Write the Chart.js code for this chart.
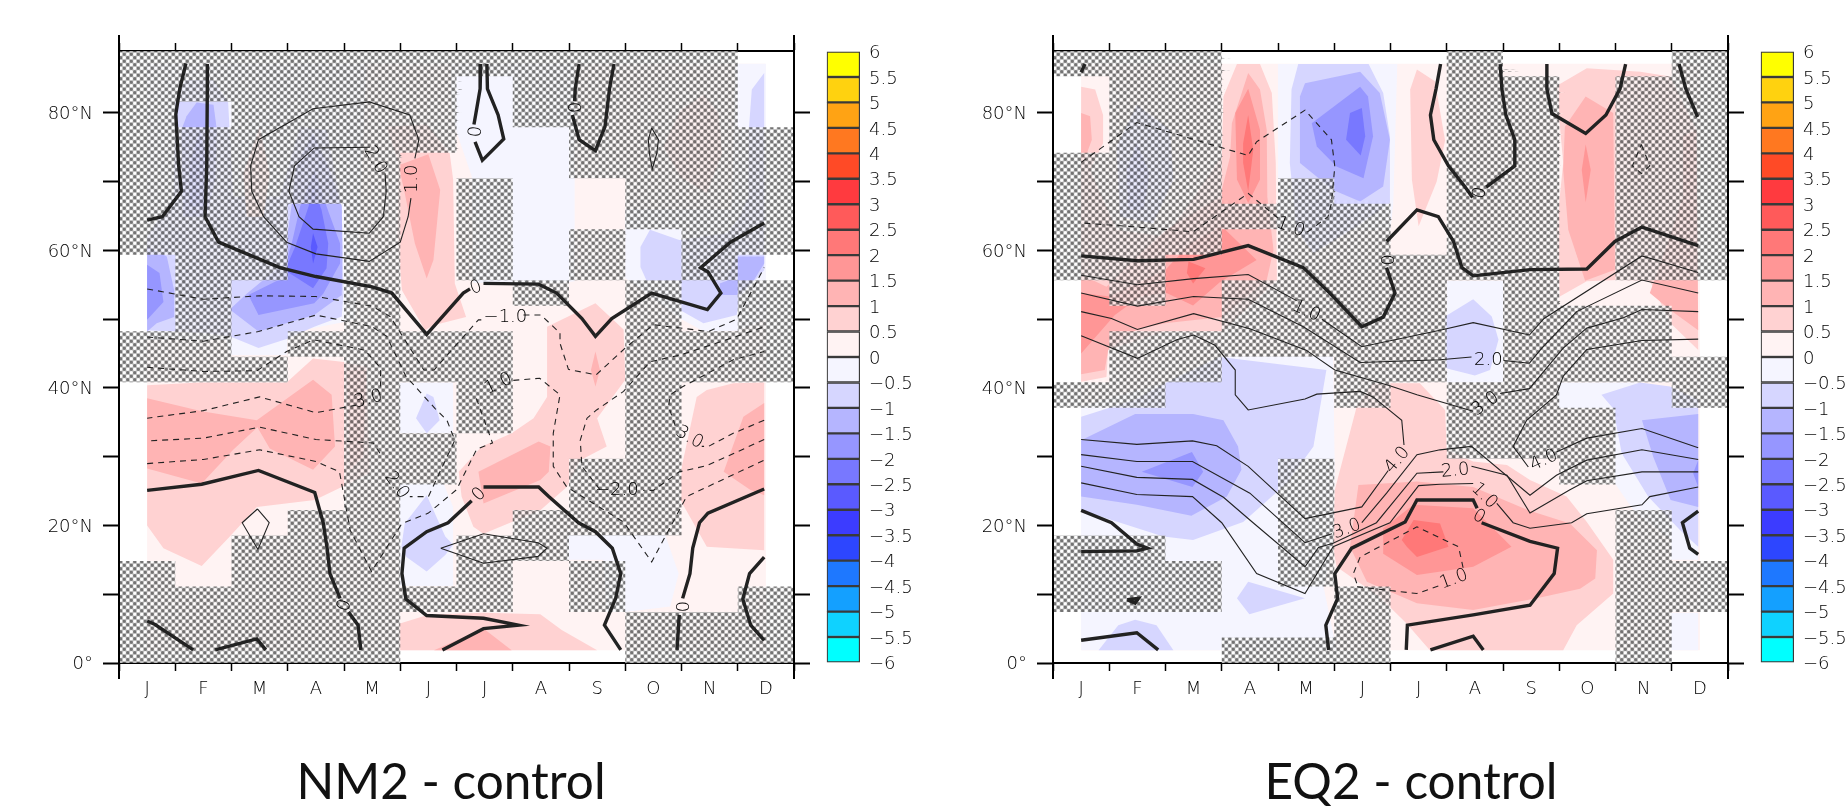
<!DOCTYPE html>
<html><head><meta charset="utf-8">
<title>NM2 and EQ2 minus control</title>
<script src="https://cdn.jsdelivr.net/npm/chart.js@4/dist/chart.umd.js"></script>
<style>
html,body{margin:0;padding:0;background:#fff;width:1848px;height:809px;overflow:hidden}
canvas{position:absolute;top:0}
.ttl{position:absolute;top:750px;width:500px;text-align:center;font:49.5px Lato,sans-serif;color:#111;line-height:60px}
</style></head><body>
<canvas id="p1" width="810" height="809" style="left:0"></canvas>
<canvas id="b1" width="114" height="809" style="left:820px"></canvas>
<canvas id="p2" width="810" height="809" style="left:934px"></canvas>
<canvas id="b2" width="94" height="809" style="left:1754px"></canvas>
<div class="ttl" style="left:201px">NM2 - control</div>
<div class="ttl" style="left:1161px">EQ2 - control</div>
<script>
const monthLabels=['J','F','M','A','M','J','J','A','S','O','N','D'];
const latCenters=[87.16,83.48,79.78,76.07,72.36,68.65,64.94,61.23,57.52,53.81,50.10,46.39,42.68,38.97,35.26,31.54,27.83,24.12,20.41,16.70,12.99,9.28,5.57,1.86];
const colorLevels=[6,5.5,5,4.5,4,3.5,3,2.5,2,1.5,1,0.5,0,-0.5,-1,-1.5,-2,-2.5,-3,-3.5,-4,-4.5,-5,-5.5,-6];
const bandColors=['#ffff00','#ffd20f','#ffa314','#ff7820','#ff4a26','#ff3a3f','#ff5a5a','#ff7878','#ff9696','#ffb4b4','#ffd2d2','#fff3f3','#f5f5ff','#d6d6ff','#b5b5ff','#9696ff','#7878ff','#5a5aff','#3c3cff','#2d46ff','#1e78ff','#14a0ff','#0fd2ff','#00ffff'];

// significance mask: one string per month, one character per latitude row from north to south
const nm2Hatch=['########...##.......####','##.##########........###','#########...#......#####','######.....#......######','########################','####.......##..##....#..','#....####..####....###..','###......#........##....','#####..##.......###.##..','#######..##########...##','#########..##.........##','...#####.####........###'];
const eq2Hatch=['#...#####....#.....###..','##########.###.....###..','########...##.......##..','......#..###...........#','.....#######....#####..#','......########.......###','........#####...........','#########....###........','.###############........','..........###.###.......','.########.###.....######','#########...##......##..'];

// shaded bands: [lower bound of band, [[month, latitude], ...]]
const nm2Fills=[
[0,[[.5,1.86],[11.5,1.86],[11.5,87.16],[.5,87.16]]],
[-.5,[[5.9,87.16],[8.1,87.16],[8.1,55.5],[7.9,55.3],[6.3,55.3],[6.27,70.8],[5.97,78],[5.9,82]]],
[-.5,[[10.95,87.16],[11.5,87.16],[11.5,50],[11,48.3],[10.4,48.2],[10,50],[9,56],[9,66],[10.9,66]]],
[-.5,[[.5,87.16],[4.4,87.16],[4.2,50],[3.96,49.5],[3,48],[2.98,44.8],[1.97,44.8],[1.9,47],[.5,47]]],
[-.5,[[7.96,18.6],[9.71,18.6],[9.95,13],[9.8,8.2],[9,7.4],[8.67,7.4],[8.61,15],[7.96,15]]],
[-.5,[[4.98,26.1],[5.77,26.1],[5.94,22.7],[5.94,11.2],[4.98,11.2]]],
[-.5,[[4.98,40.8],[5.94,40.8],[5.94,33.4],[4.98,33.4]]],
[-1,[[11.47,85.8],[11.25,83.4],[11.2,77.9],[11.19,67.8],[11.04,64.9],[10.81,62.5],[9.96,61.5],[9.44,63],[9.27,60.5],[9.27,57.6],[9.38,55.6],[9.96,55.6],[9.98,51.3],[10.39,49.4],[10.98,50.6],[11.04,53.3],[11.47,57.1]]],
[-1,[[1.17,84.8],[1.68,84.8],[1.94,81.5],[2.03,67.8],[2.86,67.8],[3.22,78],[3.69,77.5],[3.96,66.4],[3.99,53.8],[3.96,50.4],[3.47,48.9],[2.98,47.1],[2.48,45.8],[1.97,47.5],[1.5,48],[.5,48.4],[.5,62],[.97,67.8],[1,81.5]]],
[-1,[[5.47,39.2],[5.59,38.7],[5.7,35.3],[5.47,33.4],[5.28,35.6]]],
[-1,[[5.47,24.4],[5.8,18.4],[5.94,17.2],[5.8,15.7],[5.47,13.3],[5.11,15.4],[5.02,16.9],[5.08,20.3]]],
[-1.5,[[11.47,59.1],[10.95,59.1],[10.81,55.6],[10.68,55.2],[10.69,53.5],[10.98,53.5],[11.28,55.6],[11.47,58.1]]],
[-1.5,[[.5,60.6],[.85,59.1],[.98,54.2],[.98,50.3],[.67,49.4],[.5,48.2]]],
[-1.5,[[1.38,81.5],[1.68,81.2],[1.74,77.5],[1.71,70.3],[1.56,64.9],[1.14,64.9],[1.11,77.5],[1.2,79.5]]],
[-1.5,[[3.45,77],[3.75,71.7],[3.96,66.4],[3.97,60.5],[3.96,53.5],[3.47,50.6],[2.48,48.2],[1.97,51.4],[2.27,53.7],[2.92,58.1],[2.99,62],[3.07,66.6],[3.16,72.7]]],
[-2,[[.5,57.9],[.72,56.7],[.79,52.5],[.5,49.9]]],
[-2,[[1.44,77.5],[1.56,72.7],[1.53,66.4],[1.26,66.4],[1.26,72.7]]],
[-2,[[3.48,71.7],[3.69,66.4],[3.93,61],[3.93,58.1],[3.63,53.7],[3.47,52.3],[2.48,50.6],[2.3,53.5],[2.89,55.9],[3.07,61],[3.22,66.4]]],
[-2.5,[[3.45,69.3],[3.6,65.9],[3.72,61],[3.69,57.4],[3.45,54.5],[2.95,57.1],[3.13,60.5],[3.37,66.4]]],
[-3,[[3.45,62.5],[3.53,60.5],[3.45,58.1],[3.41,60.5]]],
[.5,[[2.5,78],[2.68,71.2],[2.57,64.9],[2.27,64.9],[2.21,71.2]]],
[.5,[[4.76,78],[5.47,78.3],[5.88,74.1],[5.94,70.3],[5.97,55.2],[6.17,50.3],[5.59,49.1],[5.44,48.4],[5.03,54.2],[4.95,62],[4.97,72.7]]],
[1,[[4.97,72.4],[5.5,74],[5.71,68.8],[5.59,58.6],[5.47,55.9],[5.26,61],[5.08,68.3]]],
[.5,[[10.39,82.6],[10.66,80],[10.72,74.1],[10.45,68.3],[9.98,70.7],[9.68,75.1],[9.98,80.4]]],
[.5,[[.5,40.4],[1.44,40.8],[2.98,40.8],[3.45,44.3],[3.96,43.8],[4.4,43.1],[4.46,27.6],[3.96,25.6],[3.48,23.7],[2.45,22.7],[1.97,18.4],[1.47,14.1],[.79,16.7],[.5,20]]],
[1,[[.5,38.5],[1.47,36.6],[2.45,35.3],[3.45,41.2],[3.78,39],[3.84,31.5],[3.45,28.1],[2.68,31.2],[2.46,34.3],[2.03,31],[1.47,26.1],[.5,28.3]]],
[1,[[4.05,42.6],[4.4,42.6],[4.34,30],[4.11,28.1]]],
[.5,[[8.47,52.3],[8.97,48.5],[9,41.2],[8.5,35.6],[8.67,31.5],[8.2,29.5],[7.96,25.6],[7.49,22.2],[6.48,18.8],[6.3,19.8],[6.09,24.2],[6.04,27.8],[6.45,31.5],[6.98,33.4],[7.37,35.6],[7.61,38.7],[7.61,48.9]]],
[1,[[6.39,27.8],[7.46,32.2],[7.67,31.5],[7.64,27.8],[7.49,26.6],[6.48,23.2]]],
[1,[[8.47,45.3],[8.55,42.6],[8.47,40.2],[8.39,42.6]]],
[.5,[[11.47,40.8],[10.92,40.7],[10.45,39.7],[10.27,38.7],[9.98,27.6],[9.98,23.7],[10.45,16.9],[11.47,16.4]]],
[1,[[11.47,37.8],[11.1,35.8],[10.75,27.8],[11.22,25.2],[11.47,24.4]]],
[.5,[[4.98,1.86],[4.98,5.7],[5.5,7],[6.48,7.3],[7.49,7.1],[7.87,4.8],[8.5,1.86]]],
[1,[[5.6,1.86],[6.48,5],[6.98,1.86]]]
];
const eq2Fills=[
[0,[[.5,1.86],[11.5,1.86],[11.5,87.16],[.5,87.16]]],
[.5,[[3.27,87.1],[3.68,87.1],[3.89,82.9],[3.96,72.7],[3.98,55.6],[3,48.2],[1.99,48.2],[.98,45.5],[.95,41.6],[.5,40.9],[.5,72.7],[.66,71.7],[1.13,63],[1.99,62],[2.44,66.9],[3,73.7],[3.03,82.4]]],
[1,[[3.47,85.8],[3.68,83.4],[3.8,77.5],[3.81,67.8],[3.92,60.1],[3.8,55.7],[3,50.3],[1.99,49.4],[1.49,48.5],[.98,45.5],[.92,42.6],[.5,42],[.5,56.5],[.95,54.7],[1.43,58.6],[2.02,63],[2.97,67.8],[3.15,73.7],[3.18,78.5]]],
[1.5,[[3.47,83.5],[3.68,77.5],[3.68,70.3],[3.47,66.9],[3.27,70.3],[3.24,80]]],
[2,[[3.47,79.7],[3.56,74.6],[3.47,68.6],[3.38,72.7],[3.38,75.6]]],
[1.5,[[1.99,57.1],[2.44,61],[3,63.5],[3.62,58.6],[2.97,55.4],[2.49,52],[2.02,53.8],[1.55,53.3],[1.1,50.6],[.5,45],[.5,53.8],[1.01,53.3]]],
[2,[[2.41,58.4],[2.71,57.4],[2.49,55.2],[2.38,56.7]]],
[.5,[[.5,83.8],[.75,83.4],[.89,79.7],[.89,75.6],[.66,71.7],[.5,71.7]]],
[1,[[.5,80],[.66,79.5],[.69,76.1],[.54,72.7],[.5,72.7]]],
[-.5,[[4,87.1],[6.12,87.1],[6.05,66.9],[6,63],[4,63]]],
[-1,[[4.36,87.1],[5.61,87.1],[5.87,82.9],[5.99,76.6],[5.99,66.9],[5.4,63.5],[4.63,59.6],[4.33,63],[4.21,72.7],[4.24,83.4]]],
[-1.5,[[4.48,84.3],[5.46,86],[5.81,82.9],[5.99,76.1],[5.87,69.3],[5.46,67.1],[4.98,68.8],[4.39,72.7],[4.39,82.4]]],
[-2,[[4.6,78.5],[5.46,83.8],[5.6,82.4],[5.69,76.6],[5.52,70.5],[5.04,72.2],[4.69,75.1]]],
[-2.5,[[5.28,80],[5.49,80.7],[5.55,76.6],[5.47,73.8],[5.21,76.1]]],
[-1,[[1.49,81.2],[2.08,77.5],[2.14,70.3],[1.78,63.9],[1.19,64.9],[1.13,75.1]]],
[-1.5,[[1.49,75.6],[1.72,71.2],[1.61,65.9],[1.34,65.9],[1.31,71.7]]],
[.5,[[6.47,86.3],[6.79,84.6],[6.97,76],[6.82,70],[6.5,63.5],[6.38,70.3],[6.35,83.4]]],
[.5,[[8.95,83.9],[9.49,86.5],[10.44,86],[10.97,85.3],[11.44,77.5],[11.47,45.5],[10.98,49.4],[10.61,55.6],[10.02,55.7],[9.49,55.5],[9.01,53.3],[8.95,63],[9.07,72.7]]],
[1,[[9.1,78],[9.47,82.4],[9.96,80],[9.99,57.2],[9.46,55.6],[9.16,63],[9.07,71.7]]],
[1,[[11.2,76.6],[11.44,77.5],[11.47,48.4],[10.98,51.3],[10.61,53.8],[10.91,60.6],[11.2,67.8]]],
[1.5,[[9.47,75.4],[9.56,71.7],[9.47,67],[9.4,71.7]]],
[-.5,[[.5,37.3],[1.99,40.8],[2.97,44.6],[4.98,44.6],[5.01,27.6],[4.98,16.9],[4.81,11.1],[5.04,1.86],[.5,1.86]]],
[-1,[[.5,35.8],[1.46,38.3],[1.99,40.7],[2.97,44.5],[4.86,42.6],[4.63,31.5],[4.15,26.1],[3.38,20.5],[2.49,17.9],[1.96,18.4],[.5,22.2]]],
[-1.5,[[.5,32.4],[1.46,36.2],[2.49,36.2],[3.03,35.3],[3.29,31.5],[3.35,28.1],[3.09,24.2],[2.46,21.4],[1.49,23],[.5,24.2]]],
[-2,[[1.58,27.8],[2.47,30.7],[2.67,27.8],[2.48,25.6]]],
[-1,[[3.47,11.8],[4.48,9.4],[3.49,7.1],[3.27,9.4]]],
[-1,[[.81,1.86],[1.16,5.5],[1.46,6.3],[1.84,5.5],[2.14,1.86]]],
[-.5,[[7,55.6],[8,55.6],[8,40.8],[7,40.8]]],
[-1,[[7.47,52.9],[7.8,50.4],[7.92,47],[7.77,42.6],[7.5,41.8],[6.97,42.9],[6.97,50.4]]],
[-.5,[[8.97,40.8],[10.44,40.8],[11.47,37.3],[11.47,15],[10.98,15],[10.98,17.9],[10.32,22.2],[9.99,26.1],[9.96,37],[8.97,37]]],
[-.5,[[10.98,7.3],[11.47,7.3],[11.47,1.86],[10.98,1.86]]],
[-1,[[9.75,39],[10.44,40.8],[10.97,40.2],[11.47,38.3],[11.47,16.9],[11.15,19.3],[10.58,24.2],[10.11,30.5],[9.96,37]]],
[-1.5,[[10.47,35.3],[11.47,36.2],[11.47,22.7],[10.98,23.7],[10.67,30]]],
[-2,[[11.38,27.6],[11.47,29.5],[11.47,25.6]]],
[.5,[[4.98,16.9],[5.01,25.2],[5.4,37.3],[5.69,40.7],[6.52,40.7],[6.97,36.8],[7,31],[7.47,29.3],[8.07,28.8],[8.48,26.6],[9.13,24.2],[9.49,20.5],[9.96,15],[9.96,10.1],[9.31,5.5],[9.07,1.86],[6.7,1.86],[6.29,5.7],[5.81,9.6],[5.04,14]]],
[1,[[5.43,25.9],[6.47,26.4],[7.47,25.6],[8.45,22.2],[9.19,20.3],[9.67,16.4],[9.64,12.3],[9.37,10.8],[8.6,9.4],[7.47,7.7],[6.47,8.7],[5.58,11.8],[5.28,16.9]]],
[1.5,[[6.41,23],[7.47,22.5],[8.15,16.9],[7.47,14],[6.47,12.8],[5.87,15.9],[5.87,19.6]]],
[2,[[6.41,20.8],[6.88,20.3],[7.03,16.9],[6.47,15.4],[6.29,16.9],[6.2,17.9]]]
];

// contour lines: [month, latitude] vertices
const nm2Zero=[
[[1.19,87.2],[1.08,83.5],[1.01,79.8],[1.06,72.4],[1.11,68.6],[.77,64.9],[.5,64.4]],
[[1.57,87.1],[1.57,83.5],[1.56,72.3],[1.53,64.9],[1.77,61.2],[2.86,57.5],[3.5,56.2],[4.5,54.7],[4.85,53.8],[5.47,47.8],[6.12,53.8],[6.24,54.4]],
[[6.48,55.2],[7.46,55.1],[7.78,53.8],[8.23,50.1],[8.47,47.5],[8.76,50.1],[9.47,53.8],[10.46,51.4],[10.7,53.8],[10.47,56.9],[10.34,57.5],[10.87,61.2],[11.47,64]],
[[6.43,87.1],[6.42,83.5],[6.34,79.7],[6.31,78.3]],
[[6.33,75.8],[6.46,73.1],[6.84,76.2],[6.74,79.7],[6.55,83.5],[6.54,87.1]],
[[8.18,87.1],[8.11,83.5],[8.1,81.7]],
[[8.06,79.7],[8.18,76.1],[8.47,74.5],[8.64,78],[8.72,83.5],[8.8,87.1]],
[[.5,25.1],[1.47,26],[2.48,28],[3.48,24.8],[3.63,20.4],[3.7,16.7],[3.75,13],[3.93,9.4]],
[[4.08,7.4],[4.25,5.5],[4.3,1.9]],
[[.5,6.1],[.64,5.6],[1.32,1.9]],
[[1.71,1.9],[2.45,3.5],[2.61,1.9]],
[[5.75,1.9],[6.48,5],[7.1,5.5],[6.48,6.5],[5.47,6.9],[5.1,9.3],[5.03,13],[5.07,16.7],[5.47,19.1],[5.85,20.4],[6.27,23.6]],
[[6.48,25.6],[7.46,25.6],[7.64,24.2],[8.17,20.4],[8.47,19.1],[8.77,16.7],[8.92,13],[8.83,9.4],[8.63,5.5],[8.92,1.9]],
[[11.47,25.3],[10.47,21.8],[10.32,20.4],[10.2,16.7],[10.15,13],[10.02,9.4]],
[[9.96,7],[9.92,1.9]],
[[11.47,15.4],[11.21,13],[11.09,9.3],[11.23,5.5],[11.47,3.3]]
];
const nm2Thin=[
[[5.26,73.4],[5.33,76.1],[5.17,79.7],[4.45,81.6],[3.45,80.6],[2.48,76.1],[2.34,72.3],[2.36,68.6],[2.57,64.9],[2.98,61.2],[3.5,59.5],[4.45,58.4],[5,61.2],[5.14,64.9],[5.19,67.6]],
[[4.46,75],[3.47,74.9],[3.12,72.3],[3.02,68.6],[3.2,64.9],[3.45,63.1],[4.45,62.5],[4.7,64.9],[4.75,68.6],[4.73,71.2]],
[[9.47,77.8],[9.59,76.1],[9.56,74.1],[9.48,71.8],[9.43,74.1],[9.41,76.1],[9.47,77.8]],
[[2.46,22.4],[2.67,20.4],[2.47,16.5],[2.19,20.4],[2.46,22.4]],
[[5.72,16.7],[6.48,18.8],[7.45,17.5],[7.61,16.7],[7.45,15.5],[6.48,14.5],[5.72,16.7]]
];
const nm2Dash=[
[[.5,54.4],[1.5,52.9],[2.5,53.4],[3.5,53.3],[4.5,51.9],[4.82,50.4],[5.42,42.6],[5.6,42.6],[6.39,49.9],[6.5,49.9]],
[[7.19,50.6],[7.5,50.6],[7.84,48],[7.84,46.5],[7.99,42.7],[8.48,41.9],[9,45.8],[9.5,49.2],[10.48,48.2],[10.98,50],[11.47,57.5]],
[[.5,47.4],[1.5,46.8],[2.48,48.2],[3.5,50.6],[4.5,48.9],[4.76,47.5],[5.1,41.7],[5.62,37],[5.83,35.3],[5.97,32.4],[5.5,24.2],[5.17,24.2]],
[[4.64,30.5],[4.52,32],[3.5,32.5],[2.5,34.3],[1.5,32.7],[.5,32.3]],
[[.5,43],[1.5,42.4],[2.45,42.5],[2.98,45.3],[3.46,47],[4.37,45.5],[4.65,42.9],[4.65,40.2]],
[[4.22,37.5],[3.5,36.4],[2.5,38.7],[1.5,36.7],[.5,35.6]],
[[.5,29],[1.5,29.6],[2.5,31],[3.5,29.3],[3.92,27.8],[4.11,19.3],[4.49,13.3],[5.03,20.3],[5.5,21.8],[6,25.2],[6.36,31.1],[6.64,32],[6.33,39]],
[[7.01,41.1],[7.48,41.4],[7.84,39],[7.72,33.4],[7.72,28.6],[7.96,25.6],[8.97,20.5],[9.47,14.7],[10.09,24.2],[11.47,29.5]],
[[11.47,32.5],[10.8,30],[10.45,28.7],[9.96,27.8],[9.5,25.1],[9.32,25.1]],
[[8.55,25.2],[8.23,28.6],[8.2,32.4],[8.32,35.6],[8.49,36.8],[8.97,39.5],[9.44,43.8],[9.98,44.8],[10.8,47],[11.47,48.9]],
[[11.47,35.3],[10.92,33.4],[10.48,31.5],[10.36,31.5]],
[[9.89,34.5],[9.77,37.3],[9.8,39],[9.98,40],[10.92,44.1],[11.47,45.3]]
];
const nm2Labels=[[5.2,70.4,'1.0',-90],[4.57,73.2,'2.0',60],[6.33,77.3,'0',-85],[8.08,80.8,'0',90],[6.34,54.7,'0',-20],[4,8.4,'0',-70],[6.39,24.6,'0',-45],[10,8.2,'0',90],[6.87,50.4,'−1.0',0],[6.74,40.7,'1.0',-25],[4.43,38.5,'3.0',-15],[4.95,25.9,'2.0',55],[8.85,25.2,'−2.0',0],[10.15,32.9,'3.0',30]];

const eq2Zero=[
[[.5,59.2],[1.5,58.5],[2.5,58.7],[3.47,60.7],[4.45,57.5],[4.92,53.8],[5.49,48.9],[5.87,50.3],[6.08,53.8],[5.93,57.5]],
[[5.93,61.3],[6.47,65.9],[6.85,64.9],[7.12,61.3],[7.27,57.5],[7.47,56.3],[8.48,57.2],[9.49,57.3],[9.99,61.3],[10.47,63.4],[11.47,60.7]],
[[.57,87.1],[.5,85.9]],
[[6.89,87.1],[6.81,83.5],[6.71,79.7],[6.77,76.1],[7.03,72.3],[7.32,69.3],[7.46,67.7]],
[[7.7,69.2],[8.21,72.3],[8.21,76.1],[8.05,79.7],[7.98,83.5],[7.95,87.1]],
[[8.78,87.1],[8.78,83.5],[8.87,79.9],[9.47,77],[9.83,79.7],[10.08,83.5],[10.18,87.1]],
[[11.13,87.1],[11.25,83.5],[11.46,79.4]],
[[.5,22.2],[1.04,20.4],[1.49,17.3],[1.68,16.7],[1.49,16.3],[.5,16.2]],
[[1.32,9.2],[1.52,9.4],[1.46,8.7],[1.32,9.2]],
[[.5,3.3],[1.49,4.4],[1.87,1.9]],
[[4.9,1.9],[4.85,5.5],[5.06,9.4],[5.01,13],[5.31,16.7],[6.26,20.5],[6.47,23.7],[7.47,23.7],[7.54,22.5]],
[[7.62,20.4],[8.48,17.7],[8.97,16.7],[8.91,13],[8.48,8.4],[7.47,7],[6.3,5.5],[6.28,1.9]],
[[6.71,1.9],[7.47,3.9],[7.65,1.9]],
[[11.47,22.1],[11.19,20.4],[11.32,16.7],[11.47,15.8]]
];
const eq2Thin=[
[[.5,56.4],[1.5,55],[2.5,55.9],[3.47,56.5],[4.33,52.7]],
[[4.78,50],[5.49,46],[6.88,48.4],[7.47,49.5],[8.47,47.7],[8.73,50.1],[10.47,59.2],[11.47,56.8]],
[[.5,53.8],[1.5,51.9],[2.5,53.3],[3.47,52.9],[4.45,48.9],[5.46,43.7],[6.88,44.1],[7.44,44.5]],
[[8.01,44],[8.47,43.6],[8.69,45.8],[9.31,51.1],[10.47,55.7],[11.47,53.8]],
[[.5,51.1],[1.04,50.1],[1.5,48.5],[2.5,50.8],[3.5,48.6],[4.5,45.5],[5.01,42.6],[5.96,40.4],[6.47,39],[7.47,36.6]],
[[7.95,39.2],[8.47,39.9],[9.07,45.8],[9.49,48.7],[10.14,50.2],[10.47,51.4],[11.47,51.1]],
[[.5,47.6],[1.5,44.3],[2.2,47],[2.5,47.7],[2.88,46.2],[3.24,42.6],[3.24,39],[3.47,36.8],[4.48,38.4],[4.69,39.1],[5.46,39.5],[5.69,38.7],[6.2,35.3],[6.24,31.7]],
[[5.96,28],[5.49,22.7],[4.48,21],[3.47,28.6],[2.91,31.6],[2.48,32.3],[1.49,31.8],[.5,32.5]],
[[11.47,47.1],[10.47,46.9],[9.49,45.6],[9.07,41.7],[8.95,39],[8.42,35.3],[8.18,31.5],[8.45,28.5]],
[[8.95,30.7],[9.49,32.7],[10.47,34.1],[11.47,31.3]],
[[.5,30.3],[1.49,29.3],[2.48,29.3],[3.5,24.7],[4.48,17.5],[4.96,18.8]],
[[5.49,20.4],[5.93,24.7],[6.47,30.3],[6.88,31],[7.44,31.5],[8.48,24.4],[8.95,27.3],[9.49,29.5],[10.47,31],[11.47,29.6]],
[[.5,28.6],[1.49,27],[2.48,26.7],[3.03,24.1],[3.5,20.8],[4.48,14],[4.72,16.8],[4.98,17.4],[5.75,20.4],[6.47,27.6],[6.94,27.8]],
[[7.44,28.6],[8.07,27.3],[8.48,21.8],[9.19,25.2],[9.49,26.5],[10.47,27.8],[11.47,27.8]],
[[.5,26.2],[1.49,24.5],[2.48,24.2],[3,20.4],[3.62,13],[4.48,10.1],[4.98,16.9],[5.99,20.4],[6.5,25.8],[6.88,26],[7.47,26.1]],
[[7.89,23.2],[8.18,20.4],[8.48,19.6],[9.22,20.4],[9.49,21.7],[10.47,23],[10.61,24.2],[11.47,25.6]]
];
const eq2Dash=[
[[.5,72.8],[1.49,78.6],[3.47,73.8],[3.62,75.8],[4.48,80.4],[4.95,76.1],[5.01,72.2],[4.95,66.9],[4.89,64.9],[4.51,62.6]],
[[4,64.7],[3.47,68.3],[2.49,62.7],[1.5,63.4],[.5,64]],
[[10.46,75.4],[10.61,72.3],[10.46,71.2],[10.3,72.3],[10.46,75.4]],
[[5.4,11.6],[5.34,13],[5.46,15.4],[6.47,19.8],[7.21,16.9],[7.3,13.5]],
[[6.85,11.2],[6.47,10.1],[5.4,11.1]]
];
const eq2Labels=[[5.93,58.6,'0',90],[7.58,68.4,'0',-75],[7.58,21.4,'0',30],[4.23,63.5,'1.0',20],[7.12,12.3,'1.0',-20],[4.51,51.3,'1.0',25],[7.74,44.2,'2.0',0],[7.68,37.8,'3.0',-35],[6.11,29.6,'4.0',-50],[5.22,19.6,'3.0',-20],[7.15,28.1,'2.0',-5],[7.68,24.4,'1.0',45],[8.72,29.6,'4.0',-25]];

const FONT={family:"'DejaVu Sans',sans-serif",size:18,weight:'200'};
const INK='#222';
const TEXT='#000';

function bandColor(low){return bandColors[Math.round((5.5-low)/.5)];}
function hatchPattern(){
  const c=document.createElement('canvas');c.width=7;c.height=7;
  const g=c.getContext('2d');
  const im=g.createImageData(7,7);
  for(let j=0;j<7;j++)for(let i=0;i<7;i++){
    const v=Math.sin(Math.PI*(i+.5)/3.5)*Math.sin(Math.PI*(j+.5)/3.5);
    const d=Math.min(1,Math.max(0,.5+v*.95));
    const k=(j*7+i)*4;
    const gray=255-(255-88)*d;
    im.data[k]=im.data[k+1]=im.data[k+2]=gray;
    im.data[k+3]=255*(.74+.1*d);
  }
  g.putImageData(im,0,0);
  return g.createPattern(c,'repeat');
}
function hatchPoints(mask){
  const edges=[89];
  for(let i=0;i<latCenters.length-1;i++)edges.push((latCenters[i]+latCenters[i+1])/2);
  edges.push(0);
  const pts=[[0,89]];
  mask.forEach((col,c)=>{[...col].forEach((ch,r)=>{
    if(ch!=='#')return;
    const t=edges[r],b=edges[r+1];
    pts.push([c,t],[c+1,t],[c+1,b],[c,b],[c,t],[0,89]);
  });});
  return pts;
}
const xy=p=>p.map(q=>({x:q[0],y:q[1]}));
function polyDs(pts,color){return {data:xy(pts),showLine:true,fill:'shape',backgroundColor:color,borderWidth:0,pointRadius:0,tension:0,clip:false};}
function lineDs(pts,width,dash){return {data:xy(pts),showLine:true,fill:false,borderColor:INK,borderWidth:width,borderDash:dash||[],pointRadius:0,tension:0,borderJoinStyle:'miter'};}

const frame={id:'frame',afterDraw(ch){
  const {ctx,scales:{x,y}}=ch;const xs=[x.getPixelForValue(0),x.getPixelForValue(12)];
  ctx.save();ctx.strokeStyle='#000';ctx.lineWidth=2;
  xs.forEach(px=>{ctx.beginPath();ctx.moveTo(px,y.top-16);ctx.lineTo(px,y.bottom+16);ctx.stroke();});
  ctx.restore();
  const labels=ch.options.plugins.frame.labels;
  ctx.save();ctx.fillStyle=TEXT;ctx.textAlign='center';ctx.textBaseline='middle';
  ctx.font=`${FONT.weight} ${FONT.size}px ${FONT.family}`;
  labels.forEach(l=>{
    ctx.save();ctx.translate(x.getPixelForValue(l[0]),y.getPixelForValue(l[1]));ctx.rotate(l[3]*Math.PI/180);
    ctx.fillText(l[2],0,1);ctx.restore();
  });
  ctx.restore();
}};

function panel(id,fills,mask,zero,thin,dash,labels){
  const layers=[];
  fills.forEach(f=>layers.push(polyDs(f[1],bandColor(f[0]))));
  layers.push(polyDs(hatchPoints(mask),hatchPattern()));
  thin.forEach(l=>layers.push(lineDs(l,1.1)));
  dash.forEach(l=>layers.push(lineDs(l,1.1,[6,5])));
  zero.forEach(l=>layers.push(lineDs(l,3.4)));
  const grid={drawOnChartArea:false,tickLength:16,tickWidth:2,tickColor:'#000'};
  const border={color:'#000',width:2};
  const yTicks=(s)=>{s.ticks=[0,10,20,30,40,50,60,70,80].map(v=>({value:v}));};
  const xTicks=(s)=>{const t=[];for(let i=0;i<=24;i++)t.push({value:i/2});s.ticks=t;};
  const xGrid={drawOnChartArea:false,tickLength:8,tickWidth:1.5,tickColor:c=>(c.tick&&Number.isInteger(c.tick.value))?'#000':'rgba(0,0,0,0)'};
  new Chart(document.getElementById(id),{
    type:'scatter',
    data:{datasets:layers.reverse()},
    plugins:[frame],
    options:{responsive:false,animation:false,layout:{padding:0},
      plugins:{legend:{display:false},tooltip:{enabled:false},title:{display:false},frame:{labels}},
      scales:{
        x:{type:'linear',position:'bottom',min:0,max:12,afterBuildTicks:xTicks,afterFit(s){s.height=146;},
          grid:xGrid,border,ticks:{autoSkip:false,maxRotation:0,minRotation:0,padding:8,color:TEXT,font:FONT,
            callback:v=>Number.isInteger(v)?'':monthLabels[Math.floor(v)]}},
        xTop:{type:'linear',position:'top',min:0,max:12,afterBuildTicks:xTicks,afterFit(s){s.height=51;},
          grid:xGrid,border,ticks:{display:false}},
        y:{type:'linear',position:'left',min:0,max:89,afterBuildTicks:yTicks,afterFit(s){s.width=119;},
          grid,border,ticks:{autoSkip:false,padding:10,labelOffset:1.5,color:TEXT,font:FONT,
            callback:v=>v===0?'0°':(v%20===0?v+'°N':'')}},
        yRight:{type:'linear',position:'right',min:0,max:89,afterBuildTicks:yTicks,afterFit(s){s.width=16;},
          grid,border,ticks:{display:false}}
      }}
  });
}
function colorbar(id,left,plotWidth){
  const labels=['band'];
  const ds=bandColors.map((c,i)=>({data:[[colorLevels[i+1],colorLevels[i]]],backgroundColor:c,borderColor:'#3a3a3a',borderWidth:1.5,borderSkipped:false,barPercentage:1,categoryPercentage:1}));
  new Chart(document.getElementById(id),{
    type:'bar',data:{labels,datasets:ds},
    options:{responsive:false,animation:false,
      layout:{padding:{left,top:51.5,bottom:809-662.5}},
      plugins:{legend:{display:false},tooltip:{enabled:false}},
      scales:{
        x:{display:false,stacked:true},
        y:{type:'linear',position:'right',min:-6,max:6,stacked:false,
          afterBuildTicks(s){s.ticks=colorLevels.map(v=>({value:v}));},
          afterFit(s){s.width=plotWidth;},
          grid:{display:false},border:{display:false},
          ticks:{autoSkip:false,padding:1,labelOffset:2,color:TEXT,font:FONT,callback:v=>String(v).replace('-','−')}}
      }}
  });
}
panel('p1',nm2Fills,nm2Hatch,nm2Zero,nm2Thin,nm2Dash,nm2Labels);
panel('p2',eq2Fills,eq2Hatch,eq2Zero,eq2Thin,eq2Dash,eq2Labels);
colorbar('b1',6.7,74);
colorbar('b2',6.7,54);
</script>
</body></html>
